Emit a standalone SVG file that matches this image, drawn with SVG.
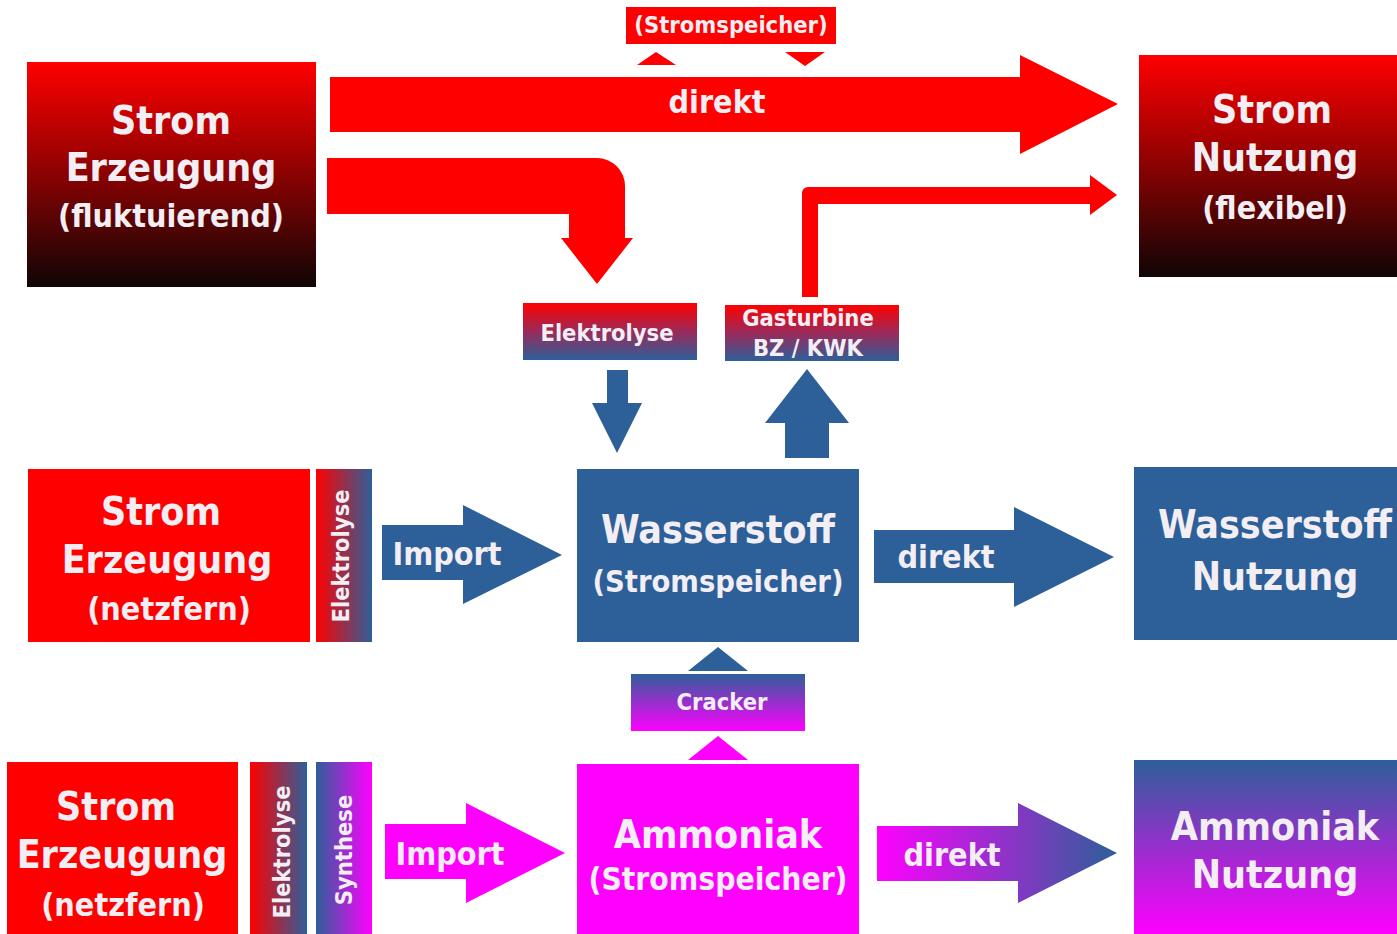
<svg xmlns="http://www.w3.org/2000/svg" width="1397" height="934" viewBox="0 0 1397 934">
<style>
.t{font-family:"DejaVu Sans Condensed","DejaVu Sans",Verdana,sans-serif;font-weight:bold;fill:#f3eef3;text-anchor:middle}
.big{font-size:39px}
.mid{font-size:32px}
.sm{font-size:23.5px}
.red{fill:#ff0000}
.blue{fill:#2d5f99}
.mag{fill:#ff00ff}
</style>
<defs>
<linearGradient id="gDark" x1="0" y1="0" x2="0" y2="1"><stop offset="0" stop-color="#ff0000"/><stop offset="0.5" stop-color="#8a0202"/><stop offset="1" stop-color="#0f0505"/></linearGradient>
<linearGradient id="gRB" x1="0" y1="0" x2="0" y2="1"><stop offset="0" stop-color="#ff0000"/><stop offset="0.5" stop-color="#9a2a5a"/><stop offset="1" stop-color="#2d5f99"/></linearGradient>
<linearGradient id="gBM" x1="0" y1="0" x2="0" y2="1"><stop offset="0" stop-color="#2d5f99"/><stop offset="1" stop-color="#ff00ff"/></linearGradient>
<linearGradient id="gRBh" x1="0" y1="0" x2="1" y2="0"><stop offset="0" stop-color="#ff0000"/><stop offset="1" stop-color="#2d5f99"/></linearGradient>
<linearGradient id="gBMh" x1="0" y1="0" x2="1" y2="0"><stop offset="0" stop-color="#2d5f99"/><stop offset="1" stop-color="#ff00ff"/></linearGradient>
<linearGradient id="gMBh" x1="0" y1="0" x2="1" y2="0"><stop offset="0" stop-color="#ff00ff"/><stop offset="1" stop-color="#2d5f99"/></linearGradient>
</defs>

<g id="connectors">
<path id="arrow-direkt-top" class="red" d="M330,77 H1020 V55 L1118,104 L1020,154 V132 H330 Z"/>
<path id="arrow-bent-elektrolyse" class="red" d="M327,158 H597 A28,28 0 0 1 625,186 V238 H633 L597,284 L561,238 H569 V214 H327 Z"/>
<path id="arrow-gasturbine-strom" class="red" d="M802,297 V193 A6,6 0 0 1 808,187 H1090 V175 L1117,195 L1090,215 V204 H818 V297 Z"/>
<polygon class="red" points="637,65 676,65 656,52"/>
<polygon class="red" points="785,52 825,52 805,66"/>
<polygon class="blue" points="607,370 628,370 628,403 642,403 617,453 592,403 607,403"/>
<polygon class="blue" points="785,458 829,458 829,423 849,423 807,369 765,423 785,423"/>
<g>
<polygon class="blue" points="382,525 463,525 463,505 562,555 463,604 463,580 382,580"/>
<text class="t mid" x="447" y="565">Import</text>
</g>
<g>
<polygon class="blue" points="874,530 1014,530 1014,507 1114,557 1014,607 1014,583 874,583"/>
<text class="t mid" x="946" y="568">direkt</text>
</g>
<polygon class="blue" points="688,671 748,671 718,647"/>
<polygon class="mag" points="688,760 748,760 718,736"/>
<g>
<polygon class="mag" points="385,824 466,824 466,803 565,853 466,903 466,879 385,879"/>
<text class="t mid" x="450" y="865">Import</text>
</g>
<g>
<polygon fill="url(#gMBh)" points="877,826 1018,826 1018,803 1117,853 1018,903 1018,881 877,881"/>
<text class="t mid" x="952" y="866">direkt</text>
</g>
<text class="t mid" x="717" y="113">direkt</text>
</g>

<g id="stromspeicher-label">
<rect class="red" x="626" y="7" width="210" height="37"/>
<text class="t sm" x="731" y="33">(Stromspeicher)</text>
</g>

<g id="strom-erzeugung-fluktuierend">
<rect x="27" y="62" width="289" height="225" fill="url(#gDark)"/>
<text class="t big" x="171" y="134">Strom</text>
<text class="t big" x="171" y="181">Erzeugung</text>
<text class="t mid" x="171" y="227">(fluktuierend)</text>
</g>

<g id="strom-nutzung">
<rect x="1139" y="55" width="258" height="222" fill="url(#gDark)"/>
<text class="t big" x="1272" y="123">Strom</text>
<text class="t big" x="1275" y="171">Nutzung</text>
<text class="t mid" x="1275" y="219">(flexibel)</text>
</g>

<g id="elektrolyse-top">
<rect x="523" y="303" width="174" height="57" fill="url(#gRB)"/>
<text class="t sm" x="607" y="341">Elektrolyse</text>
</g>

<g id="gasturbine">
<rect x="725" y="305" width="174" height="56" fill="url(#gRB)"/>
<text class="t sm" x="808" y="326">Gasturbine</text>
<text class="t sm" x="808" y="356">BZ / KWK</text>
</g>

<g id="strom-erzeugung-netzfern-1">
<rect class="red" x="28" y="469" width="282" height="173"/>
<text class="t big" x="161" y="525">Strom</text>
<text class="t big" x="167" y="573">Erzeugung</text>
<text class="t mid" x="169" y="620">(netzfern)</text>
</g>

<g id="elektrolyse-strip-1">
<rect x="316" y="469" width="56" height="173" fill="url(#gRBh)"/>
<text class="t sm" transform="translate(349,556) rotate(-90)">Elektrolyse</text>
</g>

<g id="wasserstoff-speicher">
<rect class="blue" x="577" y="469" width="282" height="173"/>
<text class="t big" x="718" y="543">Wasserstoff</text>
<text class="t" style="font-size:30.5px" x="718" y="592">(Stromspeicher)</text>
</g>

<g id="wasserstoff-nutzung">
<rect class="blue" x="1134" y="467" width="263" height="173"/>
<text class="t big" x="1275" y="538">Wasserstoff</text>
<text class="t big" x="1275" y="590">Nutzung</text>
</g>

<g id="cracker">
<rect x="631" y="674" width="174" height="57" fill="url(#gBM)"/>
<text class="t sm" x="722" y="710">Cracker</text>
</g>

<g id="strom-erzeugung-netzfern-2">
<rect class="red" x="7" y="762" width="231" height="172"/>
<text class="t big" x="116" y="820">Strom</text>
<text class="t big" x="122" y="868">Erzeugung</text>
<text class="t mid" x="123" y="916">(netzfern)</text>
</g>

<g id="elektrolyse-strip-2">
<rect x="250" y="762" width="57" height="172" fill="url(#gRBh)"/>
<text class="t sm" transform="translate(290,852) rotate(-90)">Elektrolyse</text>
</g>

<g id="synthese-strip">
<rect x="316" y="762" width="56" height="172" fill="url(#gBMh)"/>
<text class="t sm" transform="translate(352,850) rotate(-90)">Synthese</text>
</g>

<g id="ammoniak-speicher">
<rect class="mag" x="577" y="764" width="282" height="170"/>
<text class="t big" x="718" y="848">Ammoniak</text>
<text class="t" style="font-size:31.5px" x="718" y="890">(Stromspeicher)</text>
</g>

<g id="ammoniak-nutzung">
<rect x="1134" y="760" width="263" height="174" fill="url(#gBM)"/>
<text class="t big" x="1275" y="840">Ammoniak</text>
<text class="t big" x="1275" y="888">Nutzung</text>
</g>
</svg>
